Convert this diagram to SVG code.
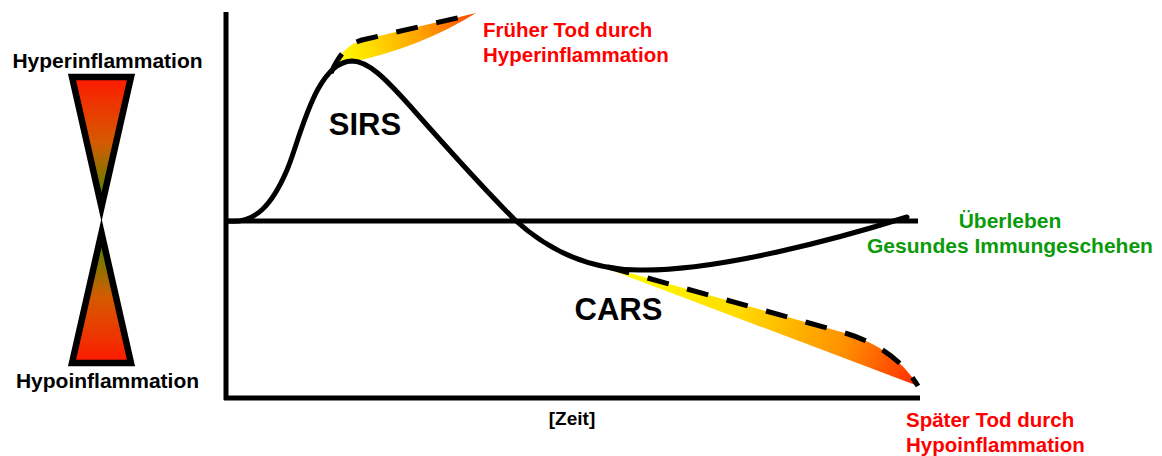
<svg xmlns="http://www.w3.org/2000/svg" width="1162" height="456" viewBox="0 0 1162 456">
  <style>
    .t { font-family: "Liberation Sans", Arial, sans-serif; font-weight: bold; }
    .blk { fill: #000; }
    .red { fill: #ff0000; }
    .grn { fill: #0a9a0a; }
    .ax { stroke: #000; stroke-width: 5; fill: none; }
    .curve { stroke: #000; stroke-width: 5; fill: none; stroke-linecap: round; }
    .dash { stroke: #000; stroke-width: 5; fill: none; stroke-dasharray: 22 19; }
    .tri { stroke: #000; stroke-width: 6.5; stroke-linejoin: miter; stroke-miterlimit: 10; }
  </style>
  <defs>
    <linearGradient id="gUp" x1="0" y1="0" x2="0" y2="1">
      <stop offset="0" stop-color="#ff1a00"/>
      <stop offset="0.5" stop-color="#d55a00"/>
      <stop offset="1" stop-color="#3c8c00"/>
    </linearGradient>
    <linearGradient id="gDown" x1="0" y1="0" x2="0" y2="1">
      <stop offset="0" stop-color="#3c8c00"/>
      <stop offset="0.5" stop-color="#d55a00"/>
      <stop offset="1" stop-color="#ff1a00"/>
    </linearGradient>
    <linearGradient id="gSirs" gradientUnits="userSpaceOnUse" x1="335" y1="60" x2="476" y2="14">
      <stop offset="0" stop-color="#ffff00"/>
      <stop offset="0.25" stop-color="#ffdd00"/>
      <stop offset="0.65" stop-color="#ff9900"/>
      <stop offset="1" stop-color="#ff4400"/>
    </linearGradient>
    <linearGradient id="gCars" gradientUnits="userSpaceOnUse" x1="610" y1="268" x2="918" y2="386">
      <stop offset="0" stop-color="#ffff00"/>
      <stop offset="0.4" stop-color="#ffdd00"/>
      <stop offset="0.75" stop-color="#ff9000"/>
      <stop offset="1" stop-color="#ff2a00"/>
    </linearGradient>
  </defs>

  <g id="hourglass">
    <polygon class="tri" fill="url(#gUp)" points="72,77 131,77 101.5,207"/>
    <polygon class="tri" fill="url(#gDown)" points="72,363 131,363 101.5,233"/>
  </g>

  <g id="labels-left">
    <text class="t blk" x="107.5" y="68" font-size="21" text-anchor="middle">Hyperinflammation</text>
    <text class="t blk" x="107.5" y="388" font-size="21" text-anchor="middle">Hypoinflammation</text>
  </g>

  <g id="fans">
    <path d="M 333 70 Q 342 46 362 40 L 476 13 Q 420 48 348 63 Z" fill="url(#gSirs)"/>
    <path d="M 608 267 L 845 333 Q 895 348 918 386 L 608 269 Z" fill="url(#gCars)"/>
  </g>

  <g id="axes">
    <line class="ax" x1="226" y1="12" x2="226" y2="400"/>
    <line class="ax" x1="224" y1="398" x2="920" y2="398"/>
    <line class="ax" x1="226" y1="221" x2="918" y2="221"/>
  </g>

  <g id="connectors">
    <path class="curve" d="M 228 221 C 255 224, 272 205, 287 170 C 300 140, 315 62, 352 61 C 368 61, 385 78, 410 106 C 440 140, 485 190, 515 220 C 550 252, 590 270, 640 270 C 720 271, 840 238, 907 217"/>
    <path class="dash" d="M 331 73 Q 342 46 362 40 L 470 15"/>
    <path class="dash" d="M 608 267 L 845 333 Q 895 348 918 386"/>
  </g>

  <g id="curve-labels">
    <text class="t blk" x="365" y="135" font-size="31" text-anchor="middle">SIRS</text>
    <text class="t blk" x="618.5" y="320" font-size="31" text-anchor="middle">CARS</text>
  </g>

  <g id="outcome-early">
    <text class="t red" x="483" y="37" font-size="20.5">Früher Tod durch</text>
    <text class="t red" x="483" y="62" font-size="20.5">Hyperinflammation</text>
  </g>

  <g id="outcome-survive">
    <text class="t grn" x="1010" y="228" font-size="21" text-anchor="middle">Überleben</text>
    <text class="t grn" x="1010" y="253" font-size="21" text-anchor="middle">Gesundes Immungeschehen</text>
  </g>

  <g id="outcome-late">
    <text class="t red" x="906" y="427" font-size="20.5">Später Tod durch</text>
    <text class="t red" x="906" y="452" font-size="20.5">Hypoinflammation</text>
  </g>

  <g id="time-label">
    <text class="t blk" x="572" y="425" font-size="19" text-anchor="middle">[Zeit]</text>
  </g>
</svg>
